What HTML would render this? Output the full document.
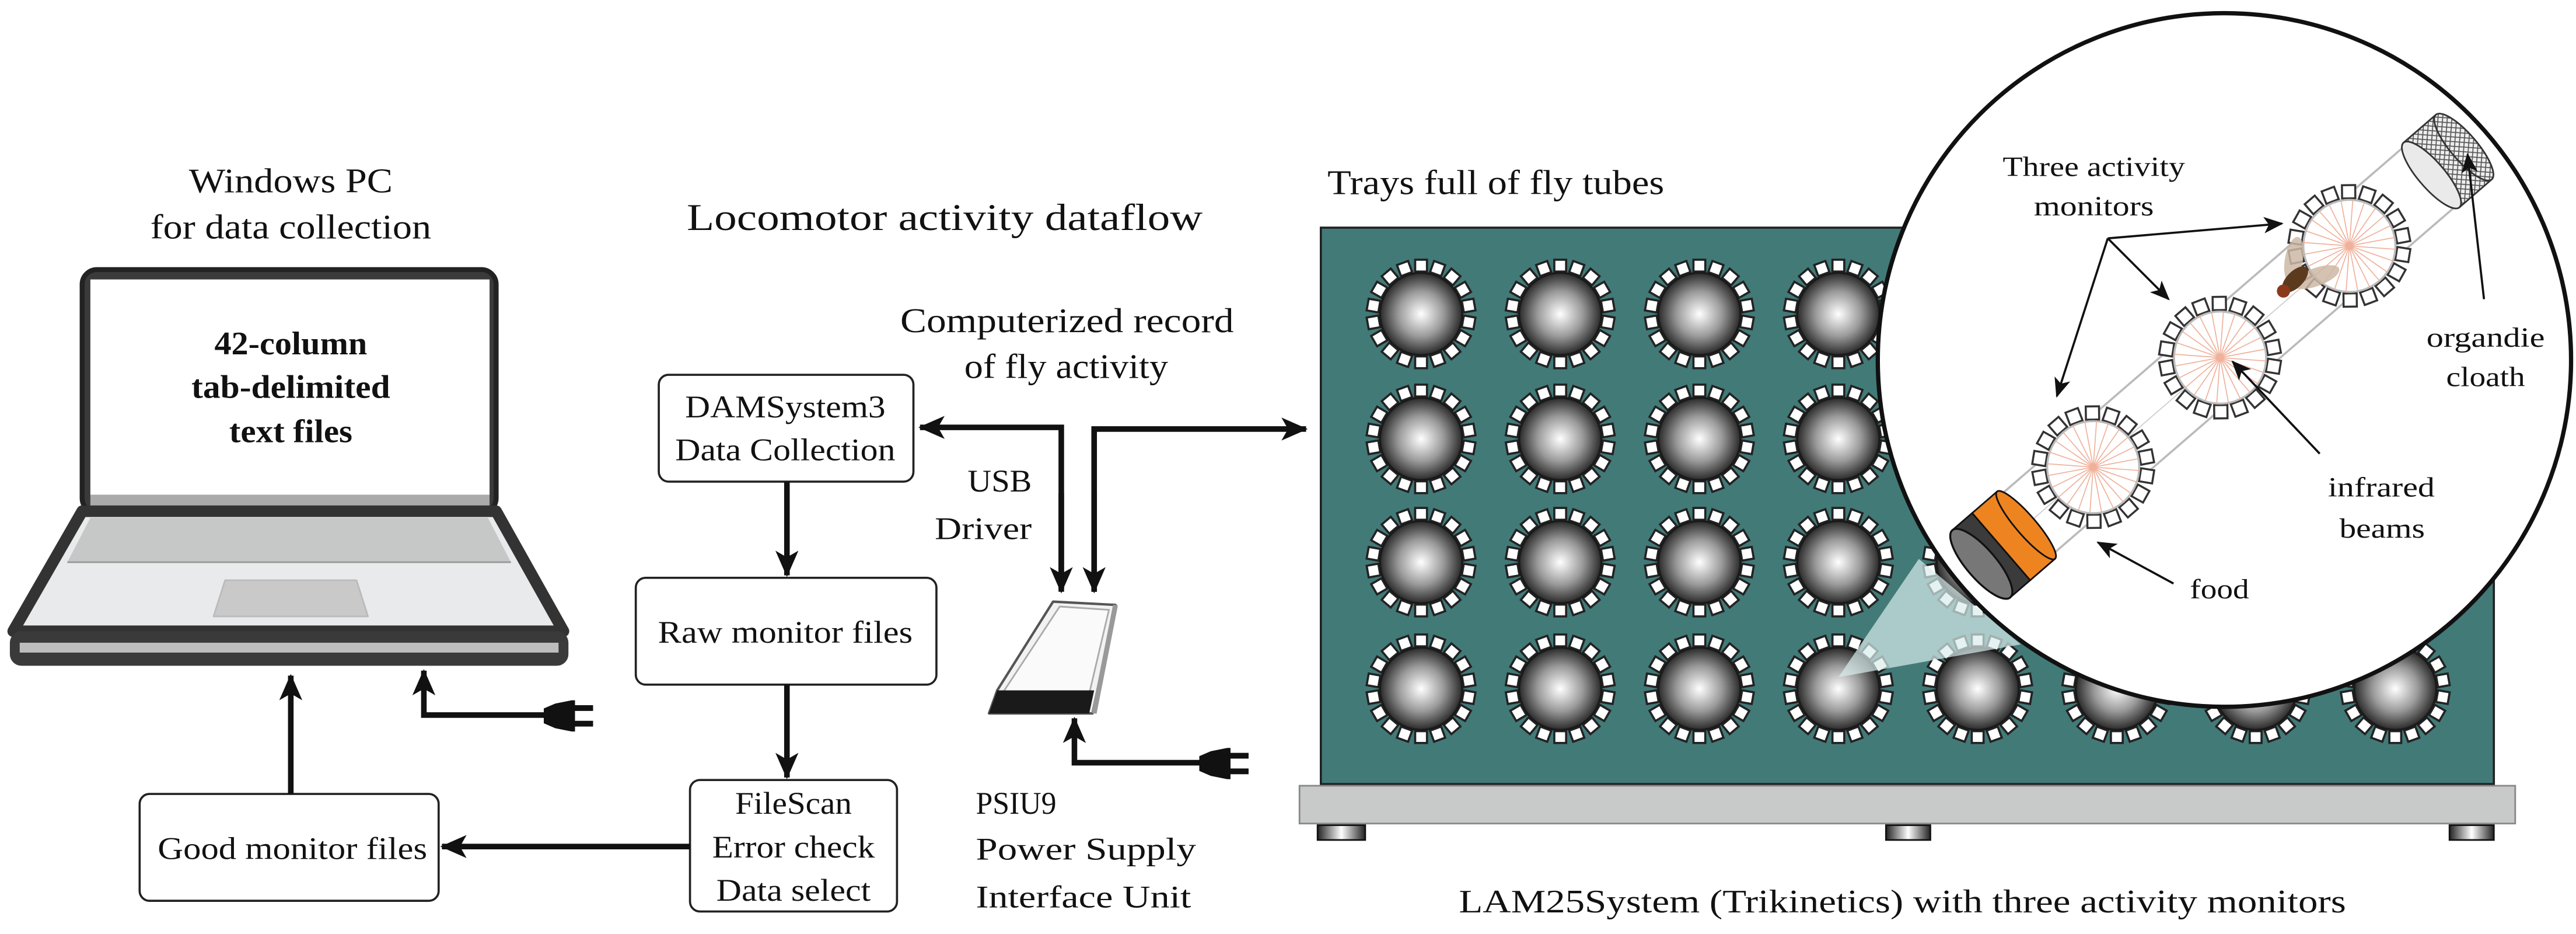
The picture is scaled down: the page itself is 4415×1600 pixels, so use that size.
<!DOCTYPE html>
<html><head><meta charset="utf-8"><style>
html,body{margin:0;padding:0;background:#fff;}
svg{display:block;}
text{font-family:"Liberation Serif",serif;fill:#111;}
</style></head><body>
<svg width="4415" height="1600" viewBox="0 0 1568 568.2" preserveAspectRatio="none" xmlns="http://www.w3.org/2000/svg">
<defs>
<radialGradient id="ball" cx="0.5" cy="0.5" r="0.5">
<stop offset="0" stop-color="#ffffff"/><stop offset="0.55" stop-color="#9a9a9a"/><stop offset="1" stop-color="#2a2a2a"/>
</radialGradient>
<linearGradient id="foot" x1="0" x2="1" y1="0" y2="0">
<stop offset="0" stop-color="#222"/><stop offset="0.5" stop-color="#fff"/><stop offset="1" stop-color="#222"/>
</linearGradient>
<pattern id="hatch" width="4" height="4" patternUnits="userSpaceOnUse">
<rect width="4" height="4" fill="#eee"/><path d="M0,0L4,4M4,0L0,4" stroke="#555" stroke-width="0.6"/>
</pattern>
<marker id="ah" markerUnits="userSpaceOnUse" markerWidth="16" markerHeight="14" refX="15" refY="7" orient="auto">
<path d="M0,0 L16,7 L0,14 L4,7 z" fill="#111"/>
</marker>
<marker id="as" markerUnits="userSpaceOnUse" markerWidth="12" markerHeight="10" refX="11" refY="5" orient="auto">
<path d="M0,0 L12,5 L0,10 L3,5 z" fill="#111"/>
</marker>
<g id="teeth">
<rect x="-3.6" y="-33" width="7.2" height="7.2" transform="rotate(0)"/>
<rect x="-3.6" y="-33" width="7.2" height="7.2" transform="rotate(20)"/>
<rect x="-3.6" y="-33" width="7.2" height="7.2" transform="rotate(40)"/>
<rect x="-3.6" y="-33" width="7.2" height="7.2" transform="rotate(60)"/>
<rect x="-3.6" y="-33" width="7.2" height="7.2" transform="rotate(80)"/>
<rect x="-3.6" y="-33" width="7.2" height="7.2" transform="rotate(100)"/>
<rect x="-3.6" y="-33" width="7.2" height="7.2" transform="rotate(120)"/>
<rect x="-3.6" y="-33" width="7.2" height="7.2" transform="rotate(140)"/>
<rect x="-3.6" y="-33" width="7.2" height="7.2" transform="rotate(160)"/>
<rect x="-3.6" y="-33" width="7.2" height="7.2" transform="rotate(180)"/>
<rect x="-3.6" y="-33" width="7.2" height="7.2" transform="rotate(200)"/>
<rect x="-3.6" y="-33" width="7.2" height="7.2" transform="rotate(220)"/>
<rect x="-3.6" y="-33" width="7.2" height="7.2" transform="rotate(240)"/>
<rect x="-3.6" y="-33" width="7.2" height="7.2" transform="rotate(260)"/>
<rect x="-3.6" y="-33" width="7.2" height="7.2" transform="rotate(280)"/>
<rect x="-3.6" y="-33" width="7.2" height="7.2" transform="rotate(300)"/>
<rect x="-3.6" y="-33" width="7.2" height="7.2" transform="rotate(320)"/>
<rect x="-3.6" y="-33" width="7.2" height="7.2" transform="rotate(340)"/>
</g>
<g id="mon">
<use href="#teeth" fill="#fff" stroke="#222" stroke-width="1.3"/>
<circle r="25" fill="url(#ball)" stroke="#1a1a1a" stroke-width="1.2"/>
</g>
<g id="ring">
<g transform="scale(1.12)"><use href="#teeth" fill="#fff" stroke="#333" stroke-width="1.1"/></g>
<circle r="28" fill="#fff" stroke="#bbb" stroke-width="1.2"/>
<g stroke="#f0b09a" stroke-width="0.6">
<line x1="-28" y1="0" x2="28" y2="0"/><line x1="0" y1="-28" x2="0" y2="28"/>
<line x1="-24" y1="-14" x2="24" y2="14"/><line x1="-24" y1="14" x2="24" y2="-14"/>
<line x1="-14" y1="-24" x2="14" y2="24"/><line x1="-14" y1="24" x2="14" y2="-24"/>
<line x1="-27" y1="-7" x2="27" y2="7"/><line x1="-27" y1="7" x2="27" y2="-7"/>
<line x1="-7" y1="-27" x2="7" y2="27"/><line x1="-7" y1="27" x2="7" y2="-27"/>
<line x1="-20" y1="-20" x2="20" y2="20"/><line x1="-20" y1="20" x2="20" y2="-20"/>
</g>
</g>
</defs>

<!-- Laptop -->
<text x="177" y="117" font-size="21" text-anchor="middle" textLength="124" lengthAdjust="spacingAndGlyphs">Windows PC</text>
<text x="177" y="145" font-size="21" text-anchor="middle" textLength="171" lengthAdjust="spacingAndGlyphs">for data collection</text>
<rect x="50" y="164" width="252" height="148" rx="9" fill="#3a3a3a" stroke="#222" stroke-width="3"/>
<rect x="55" y="170" width="243" height="131" fill="#fff"/>
<rect x="55" y="301" width="243" height="7" fill="#aaa"/>
<path d="M50,311 L302,311 L343,384 L8,384 Z" fill="#e8eaec" stroke="#333" stroke-width="7" stroke-linejoin="round"/>
<path d="M55,315 L297,315 L311,342 L41,342 Z" fill="#c6c8c8"/>
<line x1="41" y1="342" x2="311" y2="342" stroke="#999" stroke-width="1"/>
<path d="M137,353 L217,353 L224,375 L130,375 Z" fill="#c9c9c9" stroke="#bbb" stroke-width="1" stroke-linejoin="round"/>
<rect x="6" y="384" width="340" height="21" rx="7" fill="#3a3a3a"/>
<rect x="12" y="391" width="328" height="6" fill="#bdbdbd"/>
<text x="177" y="215.6" font-size="20" font-weight="bold" text-anchor="middle" textLength="93" lengthAdjust="spacingAndGlyphs">42-column</text>
<text x="177" y="242" font-size="20" font-weight="bold" text-anchor="middle" textLength="121" lengthAdjust="spacingAndGlyphs">tab-delimited</text>
<text x="177" y="269" font-size="20" font-weight="bold" text-anchor="middle" textLength="75" lengthAdjust="spacingAndGlyphs">text files</text>

<!-- Titles -->
<text x="418" y="140" font-size="23" textLength="314" lengthAdjust="spacingAndGlyphs">Locomotor activity dataflow</text>
<text x="548" y="202" font-size="21" textLength="203" lengthAdjust="spacingAndGlyphs">Computerized record</text>
<text x="587" y="230" font-size="21" textLength="124" lengthAdjust="spacingAndGlyphs">of fly activity</text>

<!-- Boxes -->
<g fill="#fff" stroke="#222" stroke-width="1.3">
<rect x="401" y="228" width="155" height="65" rx="6"/>
<rect x="387" y="351.5" width="183" height="65" rx="6"/>
<rect x="420" y="474.5" width="126" height="80" rx="6"/>
<rect x="85" y="483" width="182" height="65" rx="6"/>
</g>
<text x="478" y="254" font-size="19" text-anchor="middle" textLength="122" lengthAdjust="spacingAndGlyphs">DAMSystem3</text>
<text x="478" y="280" font-size="19" text-anchor="middle" textLength="134" lengthAdjust="spacingAndGlyphs">Data Collection</text>
<text x="478" y="391" font-size="19" text-anchor="middle" textLength="155" lengthAdjust="spacingAndGlyphs">Raw monitor files</text>
<text x="483" y="495" font-size="19" text-anchor="middle" textLength="71" lengthAdjust="spacingAndGlyphs">FileScan</text>
<text x="483" y="521.6" font-size="19" text-anchor="middle" textLength="99" lengthAdjust="spacingAndGlyphs">Error check</text>
<text x="483" y="548" font-size="19" text-anchor="middle" textLength="94" lengthAdjust="spacingAndGlyphs">Data select</text>
<text x="178" y="522.5" font-size="19" text-anchor="middle" textLength="164" lengthAdjust="spacingAndGlyphs">Good monitor files</text>

<!-- flow arrows -->
<g stroke="#111" stroke-width="3.4" fill="none">
<line x1="479" y1="293" x2="479" y2="350" marker-end="url(#ah)"/>
<line x1="479" y1="416.5" x2="479" y2="473" marker-end="url(#ah)"/>
<line x1="420" y1="515" x2="269" y2="515" marker-end="url(#ah)"/>
<line x1="177" y1="483" x2="177" y2="411" marker-end="url(#ah)"/>
<polyline points="333,435 258,435 258,408" marker-end="url(#ah)"/>
<polyline points="646,358 646,260 560,260" marker-end="url(#ah)"/>
<line x1="646" y1="300" x2="646" y2="360" marker-end="url(#ah)"/>
<polyline points="666,360 666,261 795,261" marker-end="url(#ah)"/>
<line x1="666" y1="300" x2="666" y2="360" marker-end="url(#ah)"/>
<polyline points="732,464 654,464 654,437" marker-end="url(#ah)"/>
</g>
<!-- plugs -->
<g fill="#111">
<path d="M331,431 L338,428 L348,426 L350,426 L350,445 L348,445 L338,443 L331,440 Z"/>
<rect x="349" y="429" width="12" height="3.5"/><rect x="349" y="438.5" width="12" height="3.5"/>
<path d="M730,460 L737,457 L747,455 L749,455 L749,474 L747,474 L737,472 L730,469 Z"/>
<rect x="748" y="458" width="12" height="3.5"/><rect x="748" y="467.5" width="12" height="3.5"/>
</g>
<text x="628" y="299" font-size="19" text-anchor="end" textLength="39" lengthAdjust="spacingAndGlyphs">USB</text>
<text x="628" y="328" font-size="19" text-anchor="end" textLength="59" lengthAdjust="spacingAndGlyphs">Driver</text>

<!-- PSIU device -->
<path d="M641,366 L679,368 L665,434 L602,434 L607,420 Z" fill="#f2f2f2" stroke="#555" stroke-width="1.5" stroke-linejoin="round"/>
<path d="M645,369 L675,371 L663,422 L610,422 Z" fill="#fafafa" stroke="#aaa" stroke-width="1"/>
<path d="M607,420 L666,420 L663,434 L602,434 Z" fill="#1a1a1a"/>
<path d="M679,368 L666,434" stroke="#999" stroke-width="3"/>
<text x="594" y="495" font-size="19" textLength="49" lengthAdjust="spacingAndGlyphs">PSIU9</text>
<text x="594" y="523" font-size="19" textLength="134" lengthAdjust="spacingAndGlyphs">Power Supply</text>
<text x="594" y="552" font-size="19" textLength="131" lengthAdjust="spacingAndGlyphs">Interface Unit</text>

<!-- Trays -->
<text x="808" y="118" font-size="21" textLength="205" lengthAdjust="spacingAndGlyphs">Trays full of fly tubes</text>
<rect x="804" y="138.5" width="714" height="338.5" fill="#427a78" stroke="#222" stroke-width="1.3"/>
<rect x="791" y="478" width="740" height="23" fill="#c8c9c9" stroke="#888" stroke-width="1"/>
<rect x="802" y="502" width="29" height="9" fill="url(#foot)" stroke="#111" stroke-width="1"/>
<rect x="1148" y="502" width="27" height="9" fill="url(#foot)" stroke="#111" stroke-width="1"/>
<rect x="1491" y="502" width="27" height="9" fill="url(#foot)" stroke="#111" stroke-width="1"/>
<g>
<use href="#mon" x="865" y="191"/><use href="#mon" x="949.7" y="191"/><use href="#mon" x="1034.4" y="191"/><use href="#mon" x="1119" y="191"/><use href="#mon" x="1203.8" y="191"/><use href="#mon" x="1288.5" y="191"/><use href="#mon" x="1373" y="191"/><use href="#mon" x="1458" y="191"/>
<use href="#mon" x="865" y="267"/><use href="#mon" x="949.7" y="267"/><use href="#mon" x="1034.4" y="267"/><use href="#mon" x="1119" y="267"/><use href="#mon" x="1203.8" y="267"/><use href="#mon" x="1288.5" y="267"/><use href="#mon" x="1373" y="267"/><use href="#mon" x="1458" y="267"/>
<use href="#mon" x="865" y="342"/><use href="#mon" x="949.7" y="342"/><use href="#mon" x="1034.4" y="342"/><use href="#mon" x="1119" y="342"/><use href="#mon" x="1203.8" y="342"/><use href="#mon" x="1288.5" y="342"/><use href="#mon" x="1373" y="342"/><use href="#mon" x="1458" y="342"/>
<use href="#mon" x="865" y="419"/><use href="#mon" x="949.7" y="419"/><use href="#mon" x="1034.4" y="419"/><use href="#mon" x="1119" y="419"/><use href="#mon" x="1203.8" y="419"/><use href="#mon" x="1288.5" y="419"/><use href="#mon" x="1373" y="419"/><use href="#mon" x="1458" y="419"/>
</g>
<!-- cone -->
<path d="M1119,412 L1168,340 L1230,392 Z" fill="#d8ecec" fill-opacity="0.7"/>
<!-- magnifier -->
<circle cx="1354" cy="219" r="211" fill="#fff" stroke="#111" stroke-width="2.6"/>
<!-- tube -->
<g transform="translate(1206,343) rotate(-40.8)">
<line x1="10" y1="-24" x2="362" y2="-24" stroke="#bbb" stroke-width="1.3"/>
<line x1="10" y1="24" x2="362" y2="24" stroke="#bbb" stroke-width="1.3"/>
<line x1="20" y1="0" x2="300" y2="0" stroke="#ccc" stroke-width="0.6"/>
<use href="#ring" x="90" y="0"/>
<use href="#ring" x="192" y="0"/>
<use href="#ring" x="296" y="0"/>
<rect x="362" y="-26" width="26" height="52" fill="url(#hatch)" stroke="#333" stroke-width="1"/>
<ellipse cx="388" cy="0" rx="8" ry="26" fill="url(#hatch)" stroke="#333" stroke-width="1"/>
<ellipse cx="362" cy="0" rx="8" ry="26" fill="#eaeaea" stroke="#333" stroke-width="1"/>
<rect x="0" y="-27" width="16" height="54" fill="#3b3b3b" stroke="#111" stroke-width="1"/>
<rect x="16" y="-27" width="20" height="54" fill="#ee8420" stroke="#111" stroke-width="1"/>
<ellipse cx="36" cy="0" rx="6" ry="27" fill="#ee8420" stroke="#111" stroke-width="1"/>
<ellipse cx="0" cy="0" rx="9" ry="27" fill="#777" stroke="#111" stroke-width="1.2"/>
</g>
<!-- fly -->
<g transform="translate(1397,170) rotate(-45)">
<ellipse cx="8" cy="-9" rx="14" ry="5.5" fill="#cdb8a4" fill-opacity="0.85" transform="rotate(-35 8 -9)"/>
<ellipse cx="10" cy="8" rx="15" ry="5.5" fill="#cdb8a4" fill-opacity="0.85" transform="rotate(25 10 8)"/>
<ellipse cx="0" cy="0" rx="10" ry="5" fill="#5b3a1e"/>
<circle cx="-10" cy="0" r="4" fill="#8a3a1a"/>
</g>
<!-- magnifier labels -->
<text x="1219" y="107" font-size="17" textLength="111" lengthAdjust="spacingAndGlyphs">Three activity</text>
<text x="1238" y="131" font-size="17" textLength="73" lengthAdjust="spacingAndGlyphs">monitors</text>
<g stroke="#111" stroke-width="1.3" fill="none">
<line x1="1283" y1="145" x2="1389" y2="136" marker-end="url(#as)"/>
<line x1="1283" y1="145" x2="1320" y2="182" marker-end="url(#as)"/>
<line x1="1283" y1="145" x2="1252" y2="241" marker-end="url(#as)"/>
<line x1="1512" y1="182" x2="1502" y2="94" marker-end="url(#as)"/>
<line x1="1412" y1="276" x2="1359" y2="220" marker-end="url(#as)"/>
<line x1="1323" y1="355" x2="1277" y2="330" marker-end="url(#as)"/>
</g>
<text x="1477" y="211" font-size="17" textLength="72" lengthAdjust="spacingAndGlyphs">organdie</text>
<text x="1489" y="235" font-size="17" textLength="48" lengthAdjust="spacingAndGlyphs">cloath</text>
<text x="1417" y="302" font-size="17" textLength="65" lengthAdjust="spacingAndGlyphs">infrared</text>
<text x="1424" y="327" font-size="17" textLength="52" lengthAdjust="spacingAndGlyphs">beams</text>
<text x="1333" y="364" font-size="17" textLength="36" lengthAdjust="spacingAndGlyphs">food</text>

<text x="888" y="555" font-size="20" textLength="540" lengthAdjust="spacingAndGlyphs">LAM25System (Trikinetics) with three activity monitors</text>
</svg>
</body></html>
